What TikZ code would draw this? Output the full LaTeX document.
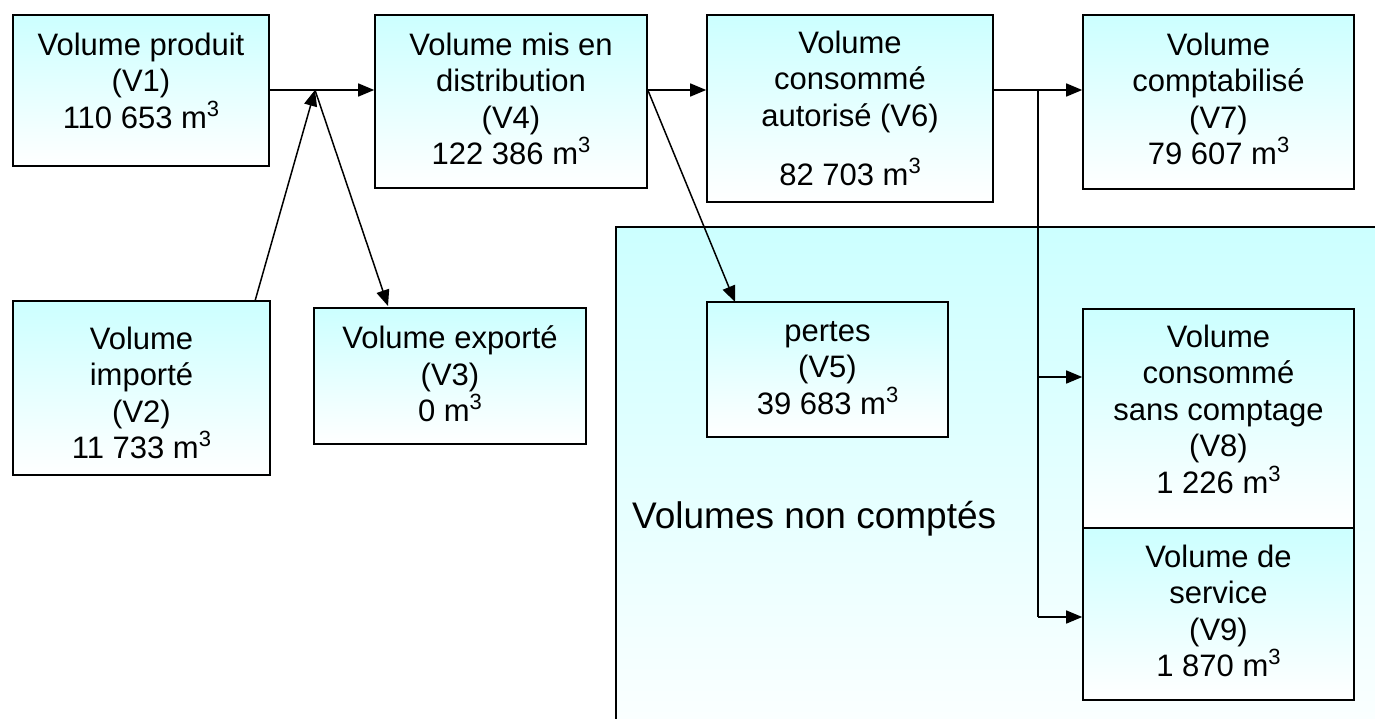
\documentclass[tikz,border=0pt]{standalone}
\usepackage{fontspec}
\setmainfont{Liberation Sans}
\usetikzlibrary{arrows.meta,fit}
\definecolor{cyanA}{RGB}{204,255,255}
\newcommand\cubesup{\raisebox{12pt}{\fontsize{22}{22}\selectfont 3}}
\begin{document}
\begin{tikzpicture}[x=1pt,y=-1pt,
  box/.style={draw=black, line width=1.6pt, top color=cyanA, bottom color=white, inner sep=0pt, rectangle},
  txt/.style={align=center, inner sep=0pt, anchor=north, font=\fontsize{31}{36.5}\selectfont},
  conn/.style={line width=1.5pt, -{Triangle[length=16pt,width=13pt]}},
  plain/.style={line width=1.5pt}]
\useasboundingbox (0,0) rectangle (1375,718);
\clip (0,0) rectangle (1375,718);

% region of uncounted volumes
\node[box, fit={(616,227) (1420,770)}] (reg) {};
\node[anchor=base west, inner sep=0pt, font=\fontsize{37}{44}\selectfont] (regl) at (632,528) {Volumes non comptés};

% boxes
\node[box, fit={(13,15) (269,166)}] (v1) {};
\node[box, fit={(375,15) (647,188)}] (v4) {};
\node[box, fit={(707,15) (993,202)}] (v6) {};
\node[box, fit={(1083,15) (1354,189)}] (v7) {};
\node[box, fit={(13,301) (270,475)}] (v2) {};
\node[box, fit={(314,308) (586,444)}] (v3) {};
\node[box, fit={(707,302) (948,437)}] (v5) {};
\node[box, fit={(1083,309) (1354,528)}] (v8) {};
\node[box, fit={(1083,528) (1354,700)}] (v9) {};

% texts
\node[txt] (t1) at (141,32.5) {Volume produit\\(V1)\\110 653 m\cubesup};
\node[txt] (t4) at (511,32.5) {Volume mis en\\distribution\\(V4)\\122 386 m\cubesup};
\node[txt] (t6) at (850,30.5) {Volume\\consommé\\autorisé (V6)\\[23pt]82 703 m\cubesup};
\node[txt] (t7) at (1218.5,32.5) {Volume\\comptabilisé\\(V7)\\79 607 m\cubesup};
\node[txt] (t2) at (141.5,326.5) {Volume\\importé\\(V2)\\11 733 m\cubesup};
\node[txt] (t3) at (450,325.5) {Volume exporté\\(V3)\\0 m\cubesup};
\node[txt] (t5) at (827.5,321) {pertes\\(V5)\\39 683 m\cubesup};
\node[txt] (t8) at (1218.5,324.5) {Volume\\consommé\\sans comptage\\(V8)\\1 226 m\cubesup};
\node[txt] (t9) at (1218.5,544.5) {Volume de\\service\\(V9)\\1 870 m\cubesup};

% junctions and free ends
\coordinate (j1) at (315,90);
\coordinate (j2) at (1038,90);
\coordinate (s2) at (255,301);
\coordinate (e3) at (388,306);
\coordinate (e5) at (735,302);
\coordinate (k8) at (1038,377);
\coordinate (k9) at (1038,617);

% connectors
\draw[conn] (v1.east |- j1) -- (j1 -| v4.west);
\draw[conn] (s2) -- (j1);
\draw[conn] (j1) -- (e3);
\draw[conn] (j1 -| v4.east) -- (j1 -| v6.west);
\draw[conn] (j1 -| v4.east) -- (e5);
\draw[conn] (j1 -| v6.east) -- (j1 -| v7.west);
\draw[plain] (j2) -- (k9);
\draw[conn] (k8) -- (k8 -| v8.west);
\draw[conn] (k9) -- (k9 -| v9.west);
\end{tikzpicture}
\end{document}
